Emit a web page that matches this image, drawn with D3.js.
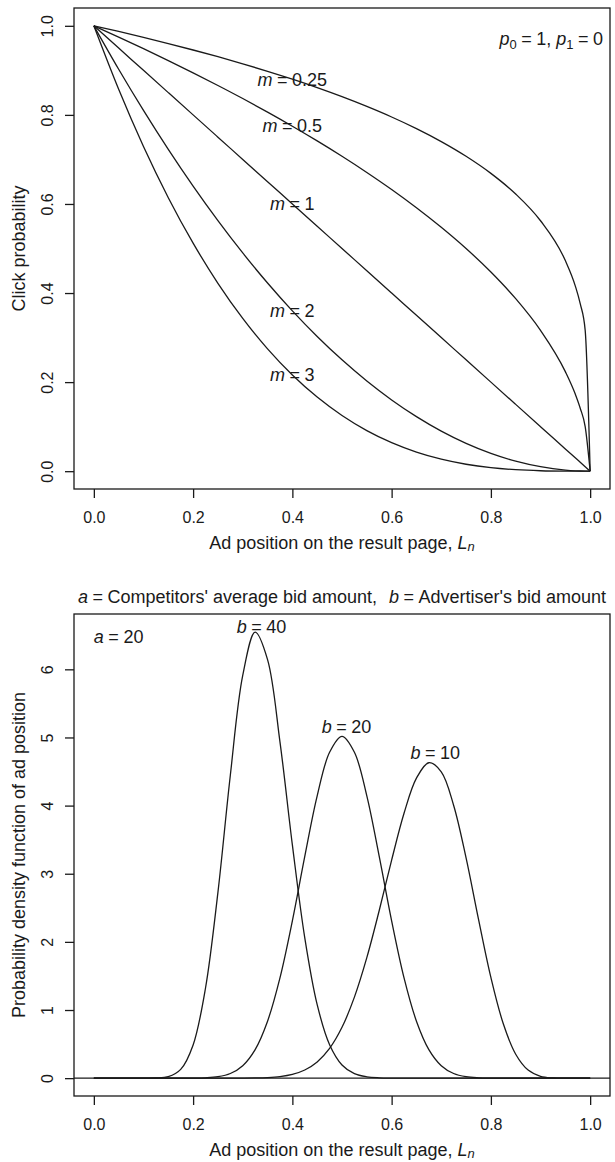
<!DOCTYPE html>
<html><head><meta charset="utf-8">
<script src="https://cdn.jsdelivr.net/npm/d3@7"></script>
<style>
body{margin:0;background:#fff}
svg{display:block}
text{font-family:"Liberation Sans",Arial,Helvetica,sans-serif;fill:#1a1a1a}
</style>
</head><body>
<svg id="c" width="615" height="1162"></svg>
<script>
// ---------- DATA: top panel (click probability vs ad position) ----------
const mValues = [0.25, 0.5, 1, 2, 3];
const mLabels = ["0.25", "0.5", "1", "2", "3"];
const topPositions = [0,0.05,0.1,0.15,0.2,0.25,0.3,0.35,0.4,0.45,0.5,0.55,0.6,0.65,0.7,0.75,0.8,0.85,0.9,0.95,0.97,0.98,0.99,1];
const clickM025 = [1,0.9873,0.9740,0.9602,0.9457,0.9306,0.9147,0.8979,0.8801,0.8612,0.8409,0.8190,0.7953,0.7692,0.7401,0.7071,0.6687,0.6223,0.5623,0.4729,0.4162,0.3761,0.3162,0];
const clickM05  = [1,0.9747,0.9487,0.9220,0.8944,0.8660,0.8367,0.8062,0.7746,0.7416,0.7071,0.6708,0.6325,0.5916,0.5477,0.5,0.4472,0.3873,0.3162,0.2236,0.1732,0.1414,0.1,0];
const clickM1   = [1,0.95,0.9,0.85,0.8,0.75,0.7,0.65,0.6,0.55,0.5,0.45,0.4,0.35,0.3,0.25,0.2,0.15,0.1,0.05,0.03,0.02,0.01,0];
const clickM2   = [1,0.9025,0.81,0.7225,0.64,0.5625,0.49,0.4225,0.36,0.3025,0.25,0.2025,0.16,0.1225,0.09,0.0625,0.04,0.0225,0.01,0.0025,0.0009,0.0004,0.0001,0];
const clickM3   = [1,0.8574,0.729,0.6141,0.512,0.4219,0.343,0.2746,0.216,0.1664,0.125,0.0911,0.064,0.0429,0.027,0.0156,0.008,0.0034,0.001,0.0001,0,0,0,0];
const clickSeries = [clickM025, clickM05, clickM1, clickM2, clickM3];
const mLabelX = [0.4, 0.4, 0.4, 0.4, 0.4];
const mLabelY = [0.88, 0.775, 0.6, 0.36, 0.216];
const topTicks = [0, 0.2, 0.4, 0.6, 0.8, 1.0];

// ---------- DATA: bottom panel (density of ad position) ----------
const bValues = ["40", "20", "10"];
const botPositions = [0,0.025,0.05,0.075,0.1,0.125,0.15,0.175,0.2,0.225,0.25,0.275,0.3,0.325,0.35,0.375,0.4,0.425,0.45,0.475,0.5,0.525,0.55,0.575,0.6,0.625,0.65,0.675,0.7,0.725,0.75,0.775,0.8,0.825,0.85,0.875,0.9,0.925,0.95,0.975,1];
const densB40 = [0,0,0,0,0.0001,0.0021,0.0219,0.128,0.487,1.323,2.727,4.446,5.911,6.547,6.143,4.936,3.423,2.059,1.078,0.491,0.194,0.066,0.0195,0.0049,0.001,0,0,0,0,0,0,0,0,0,0,0,0,0,0,0,0];
const densB20 = [0,0,0,0,0,0,0,0.0001,0.001,0.0053,0.0212,0.068,0.183,0.419,0.836,1.472,2.309,3.254,4.143,4.782,5.016,4.782,4.143,3.254,2.309,1.472,0.836,0.419,0.183,0.068,0.0212,0.0053,0.001,0.0001,0,0,0,0,0,0,0];
const densB10 = [0,0,0,0,0,0,0,0,0,0,0,0.0002,0.0009,0.0031,0.009,0.0235,0.0555,0.12,0.238,0.437,0.746,1.189,1.768,2.46,3.2,3.888,4.403,4.629,4.496,4.002,3.232,2.334,1.478,0.798,0.351,0.118,0.027,0.0034,0.0001,0,0];
const densSeries = [densB40, densB20, densB10];
const bLabelX = [0.338, 0.509, 0.688];
const bLabelY = [6.53, 5.07, 4.684];
const botXTicks = [0, 0.2, 0.4, 0.6, 0.8, 1.0];
const botYTicks = [0, 1, 2, 3, 4, 5, 6];

// ---------- drawing ----------
const svg = d3.select("#c");
const INK = "#1a1a1a";
const FS = 16;     // tick labels
const LS = 18;     // labels / titles

function mathText(g, x, y, anchor, parts, size, subDrop) {
  const sz = size || LS;
  const drop = subDrop || 4;
  const t = g.append("text").attr("x", x).attr("y", y)
    .attr("text-anchor", anchor).style("font-size", sz + "px");
  let subShift = 0;
  parts.forEach(p => {
    const s = t.append("tspan").text(p.t);
    if (p.i) s.style("font-style", "italic");
    if (p.dx) s.attr("dx", p.dx);
    if (p.sub) { s.style("font-size", (sz * 0.72) + "px").attr("dy", drop); subShift = drop; }
    else if (subShift) { s.attr("dy", -subShift); subShift = 0; }
  });
  return t;
}
const EQ = 4.5;

function panel(xs, ys, xTicks, yTicks, yFmt, yTitle) {
  const g = svg.append("g");
  const [x0, x1] = xs.range(), [y0, y1] = ys.range();
  g.append("rect").attr("x", x0).attr("y", y1).attr("width", x1 - x0).attr("height", y0 - y1)
    .attr("fill", "none").attr("stroke", INK).attr("stroke-width", 1.3);
  const ax = g.append("g").attr("transform", `translate(0,${y0})`)
    .call(d3.axisBottom(xs).tickValues(xTicks).tickSize(9).tickFormat(d3.format(".1f")));
  ax.select(".domain").remove();
  ax.selectAll("line").attr("stroke", INK).attr("stroke-width", 1.3);
  ax.selectAll("text").attr("y", 34).attr("dy", 0).style("font-size", FS + "px").attr("fill", INK);
  const ay = g.append("g").attr("transform", `translate(${x0},0)`)
    .call(d3.axisLeft(ys).tickValues(yTicks).tickSize(9).tickFormat(yFmt));
  ay.select(".domain").remove();
  ay.selectAll("line").attr("stroke", INK).attr("stroke-width", 1.3);
  ay.selectAll("text").attr("transform", "rotate(-90)").attr("x", 0).attr("y", -21.5).attr("dy", 0)
    .attr("text-anchor", "middle").style("font-size", FS + "px").attr("fill", INK);
  // x title
  mathText(g, (x0 + x1) / 2, y0 + 59.5, "middle",
    [{t: "Ad position on the result page, "}, {t: "L", i: true}, {t: "n", i: true, sub: true}], LS, 2.5);
  // y title
  g.append("text").attr("transform", `translate(25,${(y0 + y1) / 2}) rotate(-90)`)
    .attr("text-anchor", "middle").style("font-size", LS + "px").text(yTitle);
  return g;
}

// ----- top panel -----
const xTop = d3.scaleLinear().domain([-0.04, 1.04]).range([74, 610]);
const yTop = d3.scaleLinear().domain([-0.04, 1.04]).range([489, 8]);
const gTop = panel(xTop, yTop, topTicks, topTicks, d3.format(".1f"), "Click probability");
const lineTop = d3.line().x((d, i) => xTop(topPositions[i])).y(d => yTop(d)).curve(d3.curveMonotoneX);
clickSeries.forEach(s => {
  gTop.append("path").attr("d", lineTop(s)).attr("fill", "none").attr("stroke", INK).attr("stroke-width", 1.3);
});
mValues.forEach((m, i) => {
  mathText(gTop, xTop(mLabelX[i]), yTop(mLabelY[i]), "middle",
    [{t: "m", i: true}, {t: "=", dx: EQ}, {t: mLabels[i], dx: EQ}]).attr("dy", "0.35em");
});
mathText(gTop, 603, 45, "end",
  [{t: "p", i: true}, {t: "0", sub: true}, {t: "=", dx: EQ}, {t: "1, ", dx: EQ},
   {t: "p", i: true}, {t: "1", sub: true}, {t: "=", dx: EQ}, {t: "0", dx: EQ}]);

// ----- bottom panel -----
const xBot = d3.scaleLinear().domain([-0.04, 1.04]).range([74, 610]);
const yBot = d3.scaleLinear().domain([-0.262, 6.812]).range([1096, 614]);
const gBot = panel(xBot, yBot, botXTicks, botYTicks, d3.format("d"), "Probability density function of ad position");
gBot.append("line").attr("x1", xBot.range()[0]).attr("x2", xBot.range()[1])
  .attr("y1", yBot(0)).attr("y2", yBot(0)).attr("stroke", INK).attr("stroke-width", 1.3);
const lineBot = d3.line().x((d, i) => xBot(botPositions[i])).y(d => yBot(d)).curve(d3.curveCatmullRom.alpha(0.5));
densSeries.forEach(s => {
  gBot.append("path").attr("d", lineBot(s)).attr("fill", "none").attr("stroke", INK).attr("stroke-width", 1.3);
});
bValues.forEach((b, i) => {
  mathText(gBot, xBot(bLabelX[i]), yBot(bLabelY[i]), "middle",
    [{t: "b", i: true}, {t: "=", dx: EQ}, {t: b, dx: EQ}]);
});
mathText(gBot, xBot(0), 642.7, "start", [{t: "a", i: true}, {t: "=", dx: EQ}, {t: "20", dx: EQ}]);
mathText(svg, 342, 602.7, "middle",
  [{t: "a", i: true}, {t: "=", dx: EQ}, {t: "Competitors' average bid amount,", dx: EQ},
   {t: "b", i: true, dx: 12}, {t: "=", dx: EQ}, {t: "Advertiser's bid amount", dx: EQ}]);
</script>
</body></html>
